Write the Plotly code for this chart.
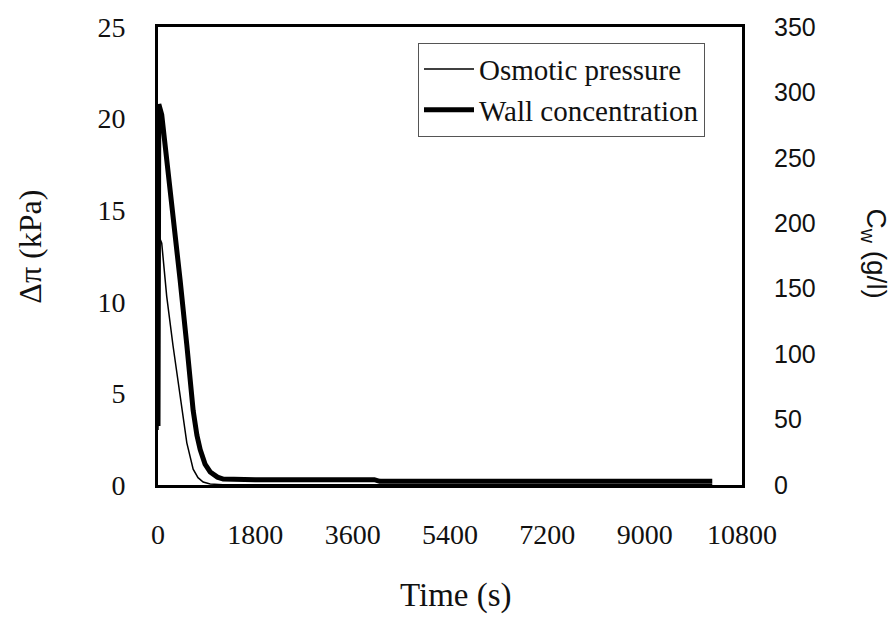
import plotly.graph_objects as go

# Data
time_cw = [0, 15, 69, 161, 278, 408, 533, 650, 720, 780, 870, 965, 1100, 1206, 1800, 4000, 4100, 10250]
wall_conc = [45, 291, 283, 250, 207, 157, 107, 57, 38, 27, 16, 10, 6, 4.5, 4.1, 4.1, 2.8, 2.8]

time_dp = [0, 15, 69, 161, 278, 408, 533, 650, 740, 835, 965, 1200, 10250]
osm_press = [3.0, 13.6, 13.2, 10.3, 7.6, 4.9, 2.3, 0.86, 0.4, 0.16, 0.05, 0.02, 0.02]

x_ticks = [0, 1800, 3600, 5400, 7200, 9000, 10800]
y1_ticks = [0, 5, 10, 15, 20, 25]
y2_ticks = [0, 50, 100, 150, 200, 250, 300, 350]

serif = "Liberation Serif"
sans = "Liberation Sans"

L, R, T, B = 158, 742, 20, 485
pw, ph = R - L, B - T

def px(x):
    return (x - L) / pw

def py(y):
    return (B - y) / ph

fig = go.Figure()
fig.add_trace(go.Scatter(x=time_dp, y=osm_press, mode="lines", name="Osmotic pressure",
                         line=dict(color="black", width=1.5), yaxis="y"))
fig.add_trace(go.Scatter(x=time_cw, y=wall_conc, mode="lines", name="Wall concentration",
                         line=dict(color="black", width=5), yaxis="y2"))

fig.update_layout(
    width=896, height=621,
    margin=dict(l=L, r=896 - R, t=T, b=621 - B),
    paper_bgcolor="white", plot_bgcolor="white",
    font=dict(family=serif, size=28, color="#111"),
    showlegend=True,
    legend=dict(x=px(418), y=py(36), xanchor="left", yanchor="top",
                bgcolor="white", bordercolor="#555", borderwidth=1,
                font=dict(family=serif, size=29, color="#111"),
                tracegroupgap=0, itemwidth=50),
    xaxis=dict(range=[0, 10800], tickvals=x_ticks, ticktext=[str(v) for v in x_ticks],
               showgrid=False, zeroline=False, showline=True, linecolor="black", linewidth=3,
               mirror=True, ticks="outside", ticklen=22, tickcolor="rgba(0,0,0,0)",
               tickfont=dict(family=serif, size=28)),
    yaxis=dict(range=[0, 25], tickvals=y1_ticks, showgrid=False, zeroline=False,
               showline=True, linecolor="black", linewidth=3,
               ticks="outside", ticklen=24, tickcolor="rgba(0,0,0,0)",
               tickfont=dict(family=serif, size=28)),
    yaxis2=dict(range=[0, 350], tickvals=y2_ticks, overlaying="y", side="right",
                showgrid=False, zeroline=False, showline=True, linecolor="black", linewidth=3,
                ticks="outside", ticklen=24, tickcolor="rgba(0,0,0,0)",
                tickfont=dict(family=sans, size=25)),
    annotations=[
        dict(text="Time (s)", x=px(456), y=py(597), xref="paper", yref="paper", showarrow=False,
             xanchor="center", yanchor="middle", font=dict(family=serif, size=33)),
        dict(text="Δπ (kPa)", x=px(30), y=py(243), xref="paper", yref="paper", showarrow=False,
             xanchor="center", yanchor="middle", textangle=-90, font=dict(family=serif, size=32)),
        dict(text="C<sub>w</sub> (g/l)", x=px(874), y=py(250), xref="paper", yref="paper",
             showarrow=False, xanchor="center", yanchor="middle", textangle=90,
             font=dict(family=sans, size=28)),
    ],
)

fig.write_html("out.html")
